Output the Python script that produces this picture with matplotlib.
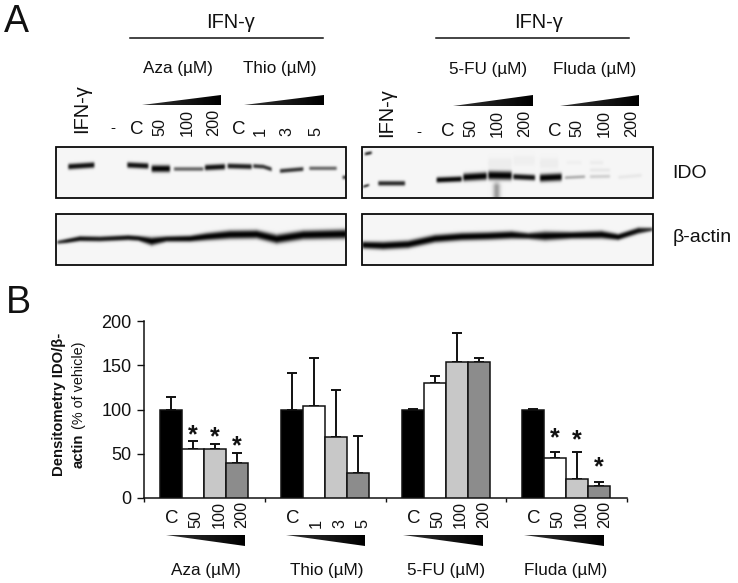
import numpy as np
import matplotlib
matplotlib.use("Agg")
import matplotlib.pyplot as plt
from matplotlib.patches import Polygon, Rectangle

plt.rcParams['font.family'] = ['Liberation Sans', 'DejaVu Sans']

# ---- densitometry data ----
groups = ["Aza (µM)", "Thio (µM)", "5-FU (µM)", "Fluda (µM)"]
aza_vals = [100, 55, 55, 40]
thio_vals = [100, 104, 69, 28]
fu_vals = [100, 130, 154, 154]
fluda_vals = [100, 45, 21, 14]
aza_tops = [114, 64, 61, 51]
thio_tops = [141, 158, 122, 70]
fu_tops = [100.5, 138, 186, 158]
fluda_tops = [100.5, 52, 52, 18]
aza_doses = ["C", "50", "100", "200"]
thio_doses = ["C", "1", "3", "5"]
fu_doses = ["C", "50", "100", "200"]
fluda_doses = ["C", "50", "100", "200"]
# height at which each significance star sits (None = no star)
aza_star = [None, 80, 78, 67]
thio_star = [None, None, None, None]
fu_star = [None, None, None, None]
fluda_star = [None, 76, 74, 44]
bar_colors = ["#000000", "#ffffff", "#c8c8c8", "#8c8c8c"]
yticks = [0, 50, 100, 150, 200]

# ---- blot bands (zoom-crop px): x-list, y-list, thickness, darkness ----
ido_left = [
    ([55, 133], [80, 75], 4.6, .95), ([232, 295], [75, 78], 4.6, .95),
    ([305, 360], [86, 86], 5.6, 1.0), ([372, 460], [87, 87], 3.2, .6),
    ([465, 525], [83, 80], 4.6, .95), ([533, 605], [78, 80], 4.2, .9),
    ([610, 640, 665], [78, 80, 88], 3.4, .8), ([690, 760], [93, 87], 3.4, .8),
    ([778, 860], [85, 85], 3.0, .6), ([878, 890], [112, 112], 3.0, .8),
]
ido_right = [
    ([30, 50], [42, 38], 2.5, .9), ([25, 42], [140, 135], 2.0, .9),
    ([70, 150], [130, 130], 3.8, .85), ([245, 320], [120, 117], 4.4, 1.0),
    ([325, 395], [112, 108], 6.2, 1.0), ([400, 470], [106, 107], 7.0, 1.0),
    ([475, 540], [110, 113], 4.6, .95), ([555, 620], [114, 111], 6.2, 1.0),
    ([630, 690], [113, 110], 2.6, .3), ([705, 765], [110, 109], 2.8, .16),
    ([790, 860], [112, 106], 3.0, .06),
    ([635, 680], [68, 68], 3.0, .03), ([705, 745], [68, 68], 3.5, .04),
    ([705, 765], [90, 90], 3.0, .06), ([475, 540], [62, 62], 9.0, .03),
    ([555, 610], [70, 70], 9.0, .04), ([400, 470], [70, 70], 9.0, .04),
]
actin_left_x = [22, 50, 90, 150, 235, 265, 305, 350, 420, 470, 540, 620, 680, 760, 890]
actin_left_y = [307, 303, 296, 297, 293, 295, 304, 297, 296, 290, 284, 283, 297, 285, 282]
actin_left_t = [3, 3.6, 4.2, 4.2, 4.2, 4.2, 6.5, 4.6, 5, 6, 6.8, 6.8, 7.2, 7.2, 7.5]
actin_left_d = [.7, .9, .95, .9, .95, .95, 1, .95, 1, 1, 1, 1, 1, 1, 1]
actin_right_x = [22, 85, 160, 240, 320, 400, 470, 520, 570, 650, 740, 790, 850, 893]
actin_right_y = [315, 317, 313, 296, 290, 288, 285, 288, 288, 286, 284, 291, 272, 268]
actin_right_t = [5.6, 6.2, 6.2, 6.2, 6.2, 6.2, 6.2, 5, 7.2, 5.6, 6.2, 5, 5, 3]
actin_right_d = [1, 1, 1, 1, 1, 1, 1, .95, 1, 1, 1, 1, .95, .7]


def smooth(img, sigma):
    r = int(3 * sigma)
    k = np.exp(-.5 * (np.arange(-r, r + 1) / sigma) ** 2)
    k /= k.sum()
    pad = np.pad(img, r, mode="edge")
    pad = np.apply_along_axis(lambda c: np.convolve(c, k, mode="same"), 0, pad)
    pad = np.apply_along_axis(lambda c: np.convolve(c, k, mode="same"), 1, pad)
    return pad[r:-r, r:-r]


def blot(x0, x1, y0, y1, crop_x, bands=(), smear=None):
    """Render a gel panel as a grey image; band lists are in 3x crop pixels, origin (crop_x, 140)."""
    ss = 3
    w, h = int((x1 - x0) * ss), int((y1 - y0) * ss)
    xs = x0 + (np.arange(w) + .5) / ss
    ys = y0 + (np.arange(h) + .5) / ss
    img = np.full((h, w), 0.965)
    yy = ys[:, None]
    for bx, by, th, dk in bands:
        px = crop_x + np.asarray(bx, float) / 3
        py = 140 + np.asarray(by, float) / 3
        cy = np.interp(xs, px, py)
        tt = np.interp(xs, px, th if np.ndim(th) else np.full(len(px), th))
        dd = np.interp(xs, px, dk if np.ndim(dk) else np.full(len(px), dk))
        env = np.clip((xs - px[0] + 1.2) / 2.4, 0, 1) * np.clip((px[-1] - xs + 1.2) / 2.4, 0, 1)
        prof = dd * env * np.exp(-np.abs((yy - cy) / (tt * .62)) ** 2.6)
        img = img * (1 - prof)
    if smear is not None:
        sx, sy0, sy1, sw, sd = smear
        px = crop_x + sx / 3
        a = sd * np.exp(-((xs - px) / sw) ** 2) * np.clip((ys[:, None] - (140 + sy0 / 3)) / 6, 0, 1)
        img = img * (1 - a)
    return smooth(img, 2.4)


fig = plt.figure(figsize=(7.38, 5.83), dpi=100)
W, H = 738, 583

# overlay in image pixels
ov = fig.add_axes([0, 0, 1, 1])
ov.set_xlim(0, W)
ov.set_ylim(H, 0)
ov.axis("off")

panels = [
    (56, 346, 147, 198, 50, ido_left, None),
    (56, 346, 214, 265, 50, [(actin_left_x, actin_left_y, actin_left_t, actin_left_d)], None),
    (362, 653, 147, 198, 355, ido_right, (425, 120, 175, 3.5, .38)),
    (362, 653, 214, 265, 355, [(actin_right_x, actin_right_y, actin_right_t, actin_right_d)], None),
]
for x0, x1, y0, y1, cx, bands, smear in panels:
    ov.imshow(blot(x0, x1, y0, y1, cx, bands, smear), extent=(x0, x1, y1, y0), cmap="gray",
              vmin=0, vmax=1, interpolation="bilinear", aspect="auto", zorder=1)
    ov.add_patch(Rectangle((x0, y0), x1 - x0, y1 - y0, fill=False, ec="#0a0a0a", lw=1.3, zorder=2))
ov.set_xlim(0, W)
ov.set_ylim(H, 0)


def wedge(x0, x1, y_base, y_top, rising=True):
    """Dose triangle with a slight grey-to-black ramp."""
    if rising:
        pts = [(x0, y_base), (x1, y_base), (x1, y_top)]
    else:
        pts = [(x0, y_top), (x1, y_top), (x1, y_base)]
    ramp = np.linspace(.2, 0, 64)[None, :]
    im = ov.imshow(ramp, extent=(x0, x1, max(y_base, y_top), min(y_base, y_top)), cmap="gray",
                   vmin=0, vmax=1, aspect="auto", zorder=3)
    poly = Polygon(pts, closed=True, transform=ov.transData, fc="none", ec="none")
    ov.add_patch(poly)
    im.set_clip_path(poly)


for a, b, yb, yt in [(142, 221, 105, 95), (244, 324, 105, 95), (453, 533, 106, 95), (560, 639, 106, 95)]:
    wedge(a, b, yb, yt, True)
for a, b in [(166, 245), (286, 365), (403, 483), (524, 604)]:
    wedge(a, b, 546, 535, False)
ov.set_xlim(0, W)
ov.set_ylim(H, 0)

ov.plot([130, 323], [38, 38], color="#111111", lw=1.1, zorder=3)
ov.plot([436, 629], [38, 38], color="#111111", lw=1.1, zorder=3)


def t(x, y, s, size=12.3, ha="center", va="center", rot=0, **kw):
    ov.text(x, y, s, fontsize=size, ha=ha, va=va, rotation=rot, color="#111111", **kw)


t(4, 21.5, "A", 27, ha="left")
t(6, 303, "B", 27, ha="left")
t(231, 22, "IFN-γ", 14.4)
t(538, 22, "IFN-γ", 14.4)
for x, y, s in [(177.5, 68.5, groups[0]), (280, 68.5, groups[1]), (488, 69.5, groups[2]), (594.5, 69.5, groups[3])]:
    t(x, y, s)
t(82, 133, "IFN-γ", 14.4, va="bottom", rot=90)
t(387, 137, "IFN-γ", 14.4, va="bottom", rot=90)
t(113, 128, "-", 11)
t(419, 132, "-", 11)


def lane_labels(xs, labels, base):
    for x, s in zip(xs, labels):
        if s == "C":
            t(x, base - 6, s, 13.5)
        else:
            t(x, base, s, 11.7, va="bottom", rot=90)


lane_labels([137, 160, 187, 214], aza_doses, 136)
lane_labels([239, 260, 287, 316], thio_doses, 136)
lane_labels([448, 471, 497, 525], fu_doses, 137)
lane_labels([555, 577, 604, 632], fluda_doses, 137)
t(672, 173.5, "IDO", 14, ha="left")
t(673, 237.5, "β-actin", 14, ha="left")
for x, s in zip([206, 327, 446, 566], groups):
    t(x, 571, s)

t(59, 404, "Densitometry IDO/β-", 10.7, rot=90, fontweight="bold")
t(79, 468, "actin", 10.7, va="bottom", rot=90, fontweight="bold")
t(79, 429, "(% of vehicle)", 10.4, va="bottom", rot=90)

# ---- bar chart ----
ax = fig.add_axes([144 / W, (H - 498) / H, 483 / W, 177 / H])
ax.patch.set_alpha(0)
ax.set_xlim(0, 4)
ax.set_ylim(0, 200)
series = [
    (aza_vals, aza_tops, aza_doses, aza_star),
    (thio_vals, thio_tops, thio_doses, thio_star),
    (fu_vals, fu_tops, fu_doses, fu_star),
    (fluda_vals, fluda_tops, fluda_doses, fluda_star),
]
bw = 22 / 120.75
first = 27 / 120.75
label_dx = [1, 3, 4, 5]
for g, (vals, tops, doses, stars) in enumerate(series):
    xs = g + first + bw * np.arange(len(vals))
    vals = np.asarray(vals, float)
    tops = np.asarray(tops, float)
    ax.errorbar(xs, vals, yerr=[np.zeros_like(vals), tops - vals], fmt="none", ecolor="#111111",
                elinewidth=1.4, capsize=3.6, capthick=1.4, zorder=2)
    ax.bar(xs, vals, width=bw, color=bar_colors, edgecolor="#111111", linewidth=1.1, zorder=3)
    for x, sy, lab, dx in zip(xs, stars, doses, label_dx):
        if sy is not None:
            ax.annotate("*", (x, sy), xytext=(0, -15), textcoords="offset pixels", ha="center",
                        va="baseline", fontsize=18, fontweight="bold", color="#111111",
                        annotation_clip=False)
        if lab == "C":
            ax.annotate(lab, (x, 0), xytext=(dx, -12), textcoords="offset pixels", ha="center",
                        va="top", fontsize=13.5, color="#111111", annotation_clip=False)
        else:
            ax.annotate(lab, (x, 0), xytext=(dx, -30), textcoords="offset pixels", ha="center",
                        va="bottom", rotation=90, fontsize=11.7, color="#111111", annotation_clip=False)

ax.spines[["top", "right"]].set_visible(False)
ax.spines[["left", "bottom"]].set_linewidth(1.1)
ax.spines[["left", "bottom"]].set_color("#111111")
ax.set_xticks(range(5))
ax.set_xticklabels([])
ax.tick_params(axis="x", length=3, width=1.0, color="#111111")
ax.set_yticks(yticks)
ax.tick_params(axis="y", length=5, width=1.0, color="#111111", labelsize=13, pad=4, labelcolor="#111111")

fig.savefig("out.png", dpi=100)
